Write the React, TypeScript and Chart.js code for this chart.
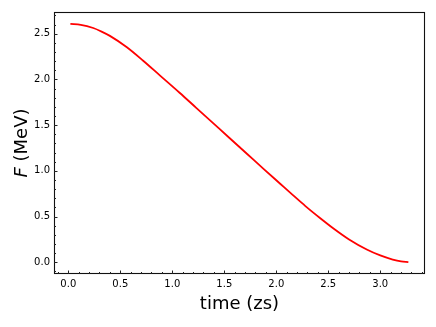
import React, { useEffect, useRef } from "react";
import { Chart, registerables } from "chart.js";

Chart.register(...registerables);

// time (zs)
const TIME = [0.02, 0.12, 0.24, 0.32, 0.4, 0.56, 0.72, 0.88, 1.07, 1.23, 1.39, 1.55, 1.72, 1.88, 2.04, 2.16, 2.28, 2.42, 2.55, 2.7, 2.87, 3.0, 3.12, 3.2, 3.27];
// F (MeV)
const FORCE = [2.607, 2.598, 2.563, 2.524, 2.477, 2.355, 2.205, 2.045, 1.855, 1.69, 1.525, 1.36, 1.185, 1.02, 0.857, 0.735, 0.615, 0.485, 0.37, 0.25, 0.14, 0.075, 0.03, 0.01, 0.003];

const X_TICKS = [0, 0.5, 1.0, 1.5, 2.0, 2.5, 3.0];
const Y_TICKS = [0, 0.5, 1.0, 1.5, 2.0, 2.5];
const X_MINOR_STEP = 0.1;
const Y_MINOR_STEP = 0.1;
const X_RANGE = [-0.1375, 3.43];
const Y_RANGE = [-0.128, 2.738];
const X_TITLE = "time (zs)";
const Y_TITLE_ITALIC = "F";
const Y_TITLE_REST = " (MeV)";

const FONT = "'DejaVu Sans', sans-serif";

const framePlugin = {
  id: "frame",
  afterDraw(chart: any) {
    const { ctx, chartArea } = chart;
    const xs = chart.scales.x;
    const ys = chart.scales.y;
    const { left, right, top, bottom } = chartArea;
    ctx.save();
    ctx.strokeStyle = "#111";
    ctx.lineWidth = 1.1;
    ctx.strokeRect(left + 0.5, top + 0.5, right - left - 1, bottom - top - 1);

    ctx.lineWidth = 1;
    ctx.strokeStyle = "#222";
    for (let i = Math.ceil(X_RANGE[0] / X_MINOR_STEP); i * X_MINOR_STEP <= X_RANGE[1]; i++) {
      const v = i * X_MINOR_STEP;
      const major = X_TICKS.some((t) => Math.abs(t - v) < 1e-6);
      const px = Math.round(xs.getPixelForValue(v)) + 0.5;
      const len = major ? 3.5 : 2;
      ctx.beginPath();
      ctx.moveTo(px, bottom);
      ctx.lineTo(px, bottom - len);
      ctx.stroke();
    }
    for (let i = Math.ceil(Y_RANGE[0] / Y_MINOR_STEP); i * Y_MINOR_STEP <= Y_RANGE[1]; i++) {
      const v = i * Y_MINOR_STEP;
      const major = Y_TICKS.some((t) => Math.abs(t - v) < 1e-6);
      const py = Math.round(ys.getPixelForValue(v)) + 0.5;
      const len = major ? 3.5 : 2;
      ctx.beginPath();
      ctx.moveTo(left, py);
      ctx.lineTo(left + len, py);
      ctx.stroke();
    }

    ctx.fillStyle = "#000";
    ctx.font = `18px ${FONT}`;
    ctx.textAlign = "center";
    ctx.textBaseline = "alphabetic";
    ctx.fillText(X_TITLE, (left + right) / 2, 309);

    ctx.save();
    ctx.translate(27, (top + bottom) / 2);
    ctx.rotate(-Math.PI / 2);
    ctx.font = `italic 18px ${FONT}`;
    const w1 = ctx.measureText(Y_TITLE_ITALIC).width;
    ctx.font = `18px ${FONT}`;
    const w2 = ctx.measureText(Y_TITLE_REST).width;
    const start = -(w1 + w2) / 2;
    ctx.textAlign = "left";
    ctx.font = `italic 18px ${FONT}`;
    ctx.fillText(Y_TITLE_ITALIC, start, 0);
    ctx.font = `18px ${FONT}`;
    ctx.fillText(Y_TITLE_REST, start + w1, 0);
    ctx.restore();
    ctx.restore();
  },
};

export default function App() {
  const ref = useRef<HTMLCanvasElement | null>(null);
  useEffect(() => {
    if (!ref.current) return;
    const chart = new Chart(ref.current, {
      type: "line",
      data: {
        datasets: [
          {
            data: TIME.map((t, i) => ({ x: t, y: FORCE[i] })),
            borderColor: "#ff0000",
            borderWidth: 1.8,
            pointRadius: 0,
            fill: false,
            cubicInterpolationMode: "monotone",
          },
        ],
      },
      options: {
        animation: false,
        responsive: false,
        maintainAspectRatio: false,
        layout: { padding: { top: 12, right: 11, left: 0, bottom: 0 } },
        plugins: { legend: { display: false }, tooltip: { enabled: false } },
        scales: {
          x: {
            type: "linear",
            min: X_RANGE[0],
            max: X_RANGE[1],
            grid: { display: false, drawTicks: false, tickLength: 0 },
            border: { display: false },
            afterBuildTicks: (s: any) => {
              s.ticks = X_TICKS.map((v) => ({ value: v }));
            },
            afterFit: (s: any) => {
              s.height = 53;
            },
            ticks: {
              font: { family: FONT, size: 10 },
              color: "#000",
              padding: 4,
              maxRotation: 0,
              autoSkip: false,
              callback: (v: any) => Number(v).toFixed(1),
            },
          },
          y: {
            type: "linear",
            min: Y_RANGE[0],
            max: Y_RANGE[1],
            grid: { display: false, drawTicks: false, tickLength: 0 },
            border: { display: false },
            afterBuildTicks: (s: any) => {
              s.ticks = Y_TICKS.map((v) => ({ value: v }));
            },
            afterFit: (s: any) => {
              s.width = 54;
            },
            ticks: {
              font: { family: FONT, size: 10 },
              color: "#000",
              padding: 4,
              autoSkip: false,
              callback: (v: any) => Number(v).toFixed(1),
            },
          },
        },
      },
      plugins: [framePlugin],
    });
    return () => chart.destroy();
  }, []);
  return (
    <div style={{ position: "fixed", left: 0, top: 0, width: 436, height: 327, background: "#fff" }}>
      <canvas ref={ref} width={436} height={327} style={{ width: 436, height: 327 }} />
    </div>
  );
}
